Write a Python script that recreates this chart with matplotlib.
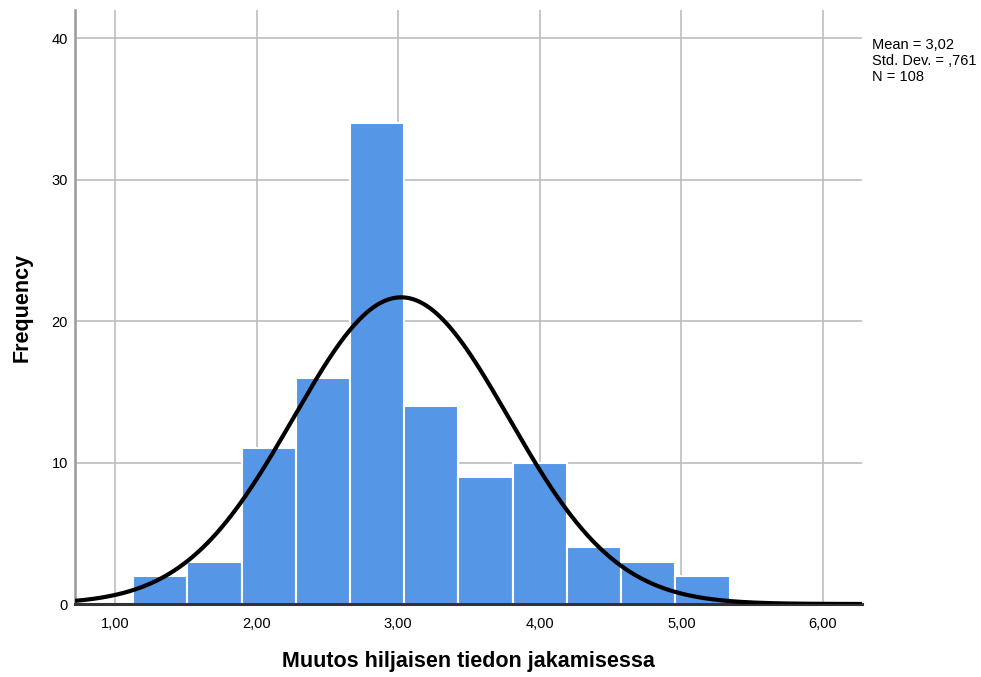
import numpy as np
import matplotlib
matplotlib.use("Agg")
import matplotlib.pyplot as plt

# Histogram of change scores
bin_start = 1.127
bin_width = 0.383
counts = [2, 3, 11, 16, 34, 14, 9, 10, 4, 3, 2]
mean = 3.02
std = 0.761
n = 108

x_ticks = [1, 2, 3, 4, 5, 6]
x_tick_labels = ["1,00", "2,00", "3,00", "4,00", "5,00", "6,00"]
y_ticks = [0, 10, 20, 30, 40]

plt.rcParams['font.family'] = ['Liberation Sans', 'DejaVu Sans']

fig = plt.figure(figsize=(9.81, 6.77), dpi=100)
ax = fig.add_axes([75 / 981, 1 - 604 / 677, (862 - 75) / 981, (604 - 10) / 677])

edges = bin_start + bin_width * np.arange(len(counts) + 1)
ax.bar(edges[:-1], counts, width=bin_width, align='edge', color='#5596E6',
       edgecolor='white', linewidth=1.5, zorder=2)

xs = np.linspace(0.717, 6.275, 500)
ys = n * bin_width * np.exp(-0.5 * ((xs - mean) / std) ** 2) / (std * np.sqrt(2 * np.pi))
ax.plot(xs, ys, color='black', linewidth=3, zorder=3, solid_capstyle='butt')

ax.set_xlim(0.717, 6.275)
ax.set_ylim(0, 42)
ax.set_xticks(x_ticks)
ax.set_xticklabels(x_tick_labels)
ax.set_yticks(y_ticks)
ax.grid(True, color='#BDBDBD', linewidth=1.2, zorder=0)
ax.set_axisbelow(True)
ax.tick_params(length=0, labelsize=10.5)
ax.tick_params(axis='x', pad=9)
ax.tick_params(axis='y', pad=5)
for s in ['top', 'right']:
    ax.spines[s].set_visible(False)
ax.spines['left'].set_color('#999999')
ax.spines['left'].set_linewidth(1.8)
ax.spines['bottom'].set_color('#333333')
ax.spines['bottom'].set_linewidth(2.2)

ax.set_xlabel('Muutos hiljaisen tiedon jakamisessa', fontsize=15.5, fontweight='bold', labelpad=15)
ax.set_ylabel('Frequency', fontsize=15.5, fontweight='bold', labelpad=14)

fig.text(872 / 981, 1 - 38 / 677,
         "Mean = 3,02\nStd. Dev. = ,761\nN = 108",
         fontsize=10.5, va='top', ha='left', linespacing=1.2)

fig.savefig('out.png', dpi=100)
